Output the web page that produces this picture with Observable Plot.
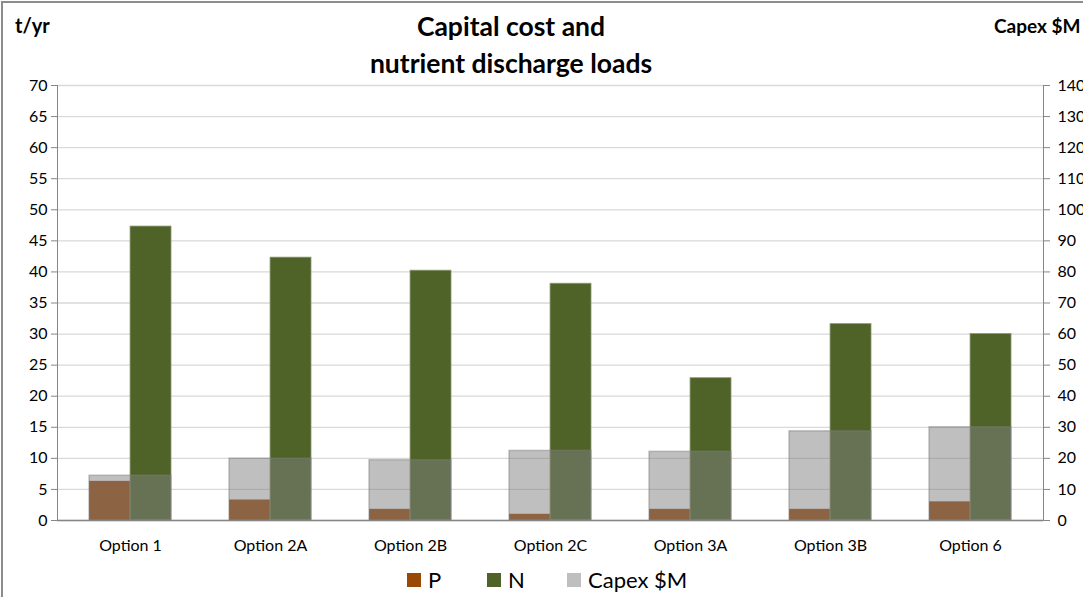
<!DOCTYPE html>
<html>
<head>
<meta charset="utf-8">
<script src="https://cdn.jsdelivr.net/npm/d3@7"></script>
<script src="https://cdn.jsdelivr.net/npm/@observablehq/plot@0.6"></script>
<style>
  html, body { margin: 0; padding: 0; background: #fff; overflow: hidden; }
  #wrap { position: relative; width: 1083px; height: 597px; font-family: Lato, "Open Sans", sans-serif; }
  #frame { position: absolute; left: 1px; top: 1px; width: 1200px; height: 700px; border: 2px solid #8c8c8c; box-sizing: border-box; pointer-events: none; }
  #chart { position: absolute; left: 0; top: 0; }
  .lbl { position: absolute; font-weight: bold; color: #000; white-space: nowrap; }
  #title { left: 0; width: 1022px; top: 8px; text-align: center; font-size: 26.5px; line-height: 37px; }
  #yl { left: 15px; top: 13px; font-size: 20px; }
  #yr { left: 994px; top: 14px; font-size: 19px; }
  #legend { position: absolute; top: 566px; left: 407px; width: 300px; display: flex; font-size: 22px; color: #000; white-space: nowrap; }
  .item { display: flex; align-items: center; flex-shrink: 0; }
  .sw { width: 14px; height: 14px; margin-right: 7px; flex-shrink: 0; }
</style>
</head>
<body>
<div id="wrap">
  <div id="chart"></div>
  <div class="lbl" id="title">Capital cost and<br>nutrient discharge loads</div>
  <div class="lbl" id="yl">t/yr</div>
  <div class="lbl" id="yr">Capex $M</div>
  <div id="legend"></div>
  <div id="frame"></div>
</div>
<script>
const options = ["Option 1", "Option 2A", "Option 2B", "Option 2C", "Option 3A", "Option 3B", "Option 6"];
const pLoad = [6.3, 3.3, 1.8, 1.0, 1.8, 1.8, 3.0];          // t/yr
const nLoad = [47.3, 42.3, 40.2, 38.1, 22.9, 31.6, 30.0];   // t/yr
const capex = [14.4, 19.9, 19.4, 22.4, 22.1, 28.7, 30.0];   // $M
const leftTicks = [0, 5, 10, 15, 20, 25, 30, 35, 40, 45, 50, 55, 60, 65, 70];
const rightTicks = [0, 10, 20, 30, 40, 50, 60, 70, 80, 90, 100, 110, 120, 130, 140];
const seriesNames = ["P", "N", "Capex $M"];
const seriesColors = ["#984807", "#4F6228", "#BFBFBF"];

const rows = options.map((o, i) => ({option: o, p: pLoad[i], n: nLoad[i], capex: capex[i]}));
const capexPerTon = rightTicks[rightTicks.length - 1] / leftTicks[leftTicks.length - 1];

const W = 1083, H = 597, mL = 57, mR = 40, mT = 85, mB = 77;
const padInner = 0.417;
const step = (W - mL - mR) / options.length;
const half = step * (1 - padInner) / 2;

const chart = Plot.plot({
  width: W, height: H,
  marginLeft: mL, marginRight: mR, marginTop: mT, marginBottom: mB,
  style: {fontFamily: "Lato, 'Open Sans', sans-serif", fontSize: "16px", color: "#000", background: "transparent", overflow: "visible"},
  x: {domain: options, paddingInner: padInner, paddingOuter: padInner / 2, label: null},
  y: {domain: [0, 70], label: null},
  marks: [
    Plot.gridY(leftTicks, {stroke: "#d9d9d9", strokeOpacity: 1, strokeWidth: 1.3}),
    Plot.barY(rows, {x: "option", y: "p", fill: seriesColors[0], insetRight: half}),
    Plot.barY(rows, {x: "option", y: "n", fill: seriesColors[1], insetLeft: half, stroke: "#8a9a70", strokeWidth: 0.8}),
    Plot.barY(rows, {x: "option", y: d => d.capex / capexPerTon, fill: "#7f7f7f", fillOpacity: 0.5, stroke: "#7f7f7f", strokeOpacity: 0.45, strokeWidth: 1.5}),
    Plot.frame({anchor: "left", stroke: "#868686"}),
    Plot.frame({anchor: "right", stroke: "#868686"}),
    Plot.ruleY([0], {stroke: "#868686", strokeWidth: 1.5}),
    Plot.axisY(leftTicks, {anchor: "left", tickSize: 6, tickPadding: 4, stroke: "#868686", label: null, fontSize: 16}),
    Plot.axisY(leftTicks, {anchor: "right", tickSize: 6, tickPadding: 8, stroke: "#868686", label: null, fontSize: 16,
      tickFormat: d => String(d * capexPerTon)}),
    Plot.axisX({tickSize: 0, tickPadding: 19, label: null, fontSize: 16})
  ]
});
document.getElementById("chart").appendChild(chart);

const legend = document.getElementById("legend");
const legendWidths = [80, 80, 130];
seriesNames.forEach((n, i) => {
  const it = document.createElement("div");
  it.className = "item";
  it.style.width = legendWidths[i] + "px";
  const sw = document.createElement("div");
  sw.className = "sw";
  sw.style.background = seriesColors[i];
  const t = document.createElement("span");
  t.textContent = n;
  it.appendChild(sw); it.appendChild(t);
  legend.appendChild(it);
});
</script>
</body>
</html>
